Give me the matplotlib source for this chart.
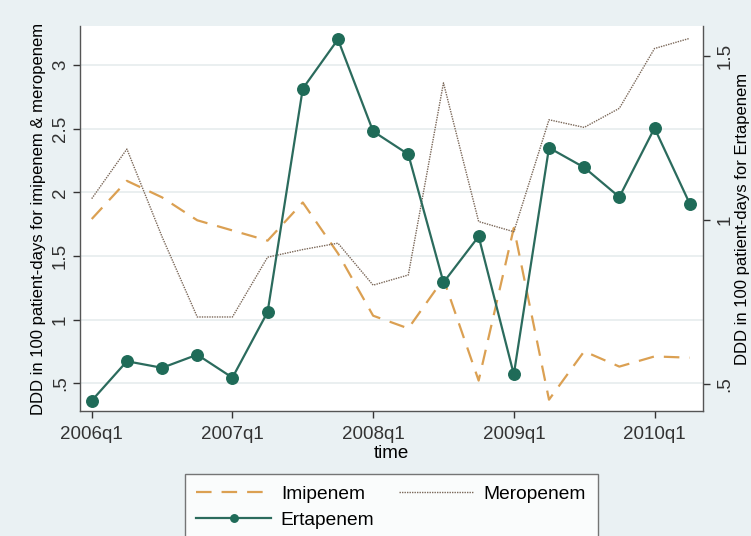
import numpy as np
import matplotlib.pyplot as plt
from matplotlib.ticker import FixedLocator

plt.rcParams['font.family'] = ['Liberation Sans', 'DejaVu Sans']

# quarterly series, 2006q1 .. 2010q2
quarters = ["2006q1", "2006q2", "2006q3", "2006q4",
            "2007q1", "2007q2", "2007q3", "2007q4",
            "2008q1", "2008q2", "2008q3", "2008q4",
            "2009q1", "2009q2", "2009q3", "2009q4",
            "2010q1", "2010q2"]
imipenem = [1.79, 2.09, 1.96, 1.78, 1.70, 1.62, 1.92, 1.52, 1.03, 0.93,
            1.32, 0.52, 1.72, 0.37, 0.75, 0.63, 0.71, 0.70]
meropenem = [1.95, 2.34, 1.65, 1.02, 1.02, 1.49, 1.55, 1.60, 1.27, 1.35,
             2.86, 1.77, 1.69, 2.57, 2.51, 2.66, 3.13, 3.21]
ertapenem = [0.45, 0.57, 0.55, 0.59, 0.52, 0.72, 1.40, 1.55, 1.27, 1.20,
             0.81, 0.95, 0.53, 1.22, 1.16, 1.07, 1.28, 1.05]

tick_quarters = ["2006q1", "2007q1", "2008q1", "2009q1", "2010q1"]
left_ticks = [0.5, 1, 1.5, 2, 2.5, 3]
left_labels = [".5", "1", "1.5", "2", "2.5", "3"]
right_ticks = [0.5, 1, 1.5]
right_labels = [".5", "1", "1.5"]

bg = "#eaf1f3"
c_imi = "#dba052"
c_mero = "#7a6758"
c_erta = "#2b6b5d"

x = np.arange(len(quarters))

fig = plt.figure(figsize=(7.51, 5.36), dpi=100, facecolor=bg)
ax = fig.add_axes([0.1065, 0.2332, 0.8292, 0.7183])
ax.set_facecolor("white")

ax.yaxis.grid(True, color="#e6ecee", linewidth=1.2)
ax.set_axisbelow(True)

l_imi, = ax.plot(x, imipenem, color=c_imi, linewidth=1.6,
                 dashes=(7, 4.5), label="Imipenem")
l_mero, = ax.plot(x, meropenem, color=c_mero, linewidth=1.0,
                  linestyle=(0, (1, 0.8)), label="Meropenem")

ax.set_xlim(-0.334, 17.37)
ax.set_ylim(0.281, 3.307)
ax.yaxis.set_major_locator(FixedLocator(left_ticks))
ax.set_yticklabels(left_labels, rotation=90, va="center", fontsize=13.5)
ax.set_xticks([quarters.index(q) for q in tick_quarters])
ax.set_xticklabels(tick_quarters, fontsize=13.5)
ax.tick_params(axis="x", pad=6)
ax.tick_params(axis="y", pad=3)
ax.set_xlabel("time", fontsize=13.5, labelpad=1)
ax.set_ylabel("DDD in 100 patient-days for imipenem & meropenem",
              fontsize=12, labelpad=4)

ax2 = ax.twinx()
l_erta, = ax2.plot(x, ertapenem, color=c_erta, linewidth=1.6,
                   marker="o", markersize=8.3, markerfacecolor="#1f6b58",
                   markeredgecolor="#1f6b58", label="Ertapenem")
ax2.set_ylim(0.4185, 1.5907)
ax2.yaxis.set_major_locator(FixedLocator(right_ticks))
ax2.set_yticklabels(right_labels, rotation=90, va="center", fontsize=13.5)
ax2.tick_params(axis="y", pad=5)
ax2.set_ylabel("DDD in 100 patient-days for Ertapenem", fontsize=12,
               labelpad=1)

for a in (ax, ax2):
    a.spines["top"].set_visible(False)
    for s in ("left", "right", "bottom"):
        a.spines[s].set_color("#555555")
        a.spines[s].set_linewidth(1.0)
    a.tick_params(colors="#333333", length=5, width=1.0)
ax.spines["right"].set_visible(False)
ax2.spines["left"].set_visible(False)
ax2.spines["bottom"].set_visible(False)

# legend handle for Ertapenem uses a smaller marker, like the original
leg = fig.legend(handles=[l_imi, l_erta, l_mero], ncol=2,
                 loc="upper left", bbox_to_anchor=(0.2463, 0.1157),
                 borderaxespad=0, fontsize=13.8, frameon=True,
                 fancybox=False, edgecolor="#555555", handlelength=3.9,
                 handletextpad=0.5, columnspacing=1.3, borderpad=0.6,
                 labelspacing=0.45, markerscale=0.65)
leg.get_frame().set_linewidth(1.0)

fig.savefig("out.png", dpi=100, facecolor=bg)
